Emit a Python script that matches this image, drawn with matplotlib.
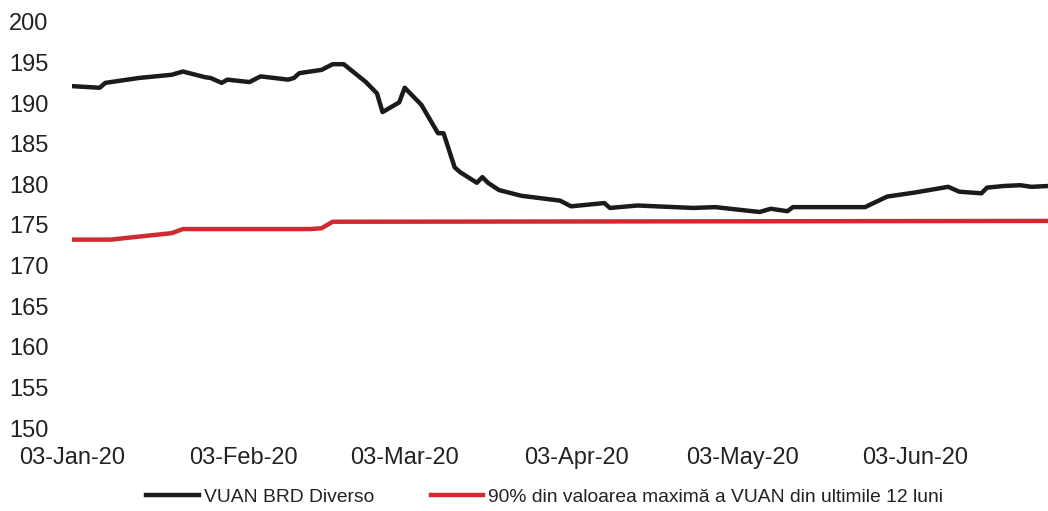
import matplotlib
matplotlib.use("Agg")
import matplotlib.pyplot as plt
import pandas as pd

plt.rcParams['font.family'] = ['Liberation Sans', 'DejaVu Sans']

# VUAN BRD Diverso
vuan_dates = [
    "2020-01-03", "2020-01-08", "2020-01-09", "2020-01-15", "2020-01-21",
    "2020-01-23", "2020-01-27", "2020-01-28", "2020-01-30", "2020-01-31",
    "2020-02-04", "2020-02-06", "2020-02-11", "2020-02-12", "2020-02-13",
    "2020-02-17", "2020-02-19", "2020-02-21", "2020-02-25", "2020-02-27",
    "2020-02-28", "2020-03-02", "2020-03-03", "2020-03-06", "2020-03-09",
    "2020-03-10", "2020-03-12", "2020-03-13", "2020-03-16", "2020-03-17",
    "2020-03-18", "2020-03-20", "2020-03-24", "2020-03-31", "2020-04-02",
    "2020-04-08", "2020-04-09", "2020-04-14", "2020-04-24", "2020-04-28",
    "2020-05-06", "2020-05-08", "2020-05-11", "2020-05-12", "2020-05-25",
    "2020-05-29", "2020-06-03", "2020-06-09", "2020-06-11", "2020-06-15",
    "2020-06-16", "2020-06-19", "2020-06-22", "2020-06-24", "2020-06-27",
]
vuan_values = [
    192.1, 191.9, 192.5, 193.1, 193.5,
    193.9, 193.2, 193.1, 192.5, 192.9,
    192.6, 193.3, 192.9, 193.1, 193.7,
    194.1, 194.8, 194.8, 192.6, 191.2,
    188.9, 190.1, 191.9, 189.8, 186.3,
    186.3, 182.1, 181.5, 180.2, 180.9,
    180.2, 179.3, 178.6, 178.0, 177.3,
    177.7, 177.1, 177.4, 177.1, 177.2,
    176.6, 177.0, 176.7, 177.2, 177.2,
    178.5, 179.0, 179.7, 179.1, 178.9,
    179.6, 179.8, 179.9, 179.7, 179.8,
]

# 90% din valoarea maxima a VUAN din ultimile 12 luni
prag_dates = ["2020-01-03", "2020-01-10", "2020-01-21", "2020-01-23",
              "2020-02-15", "2020-02-17", "2020-02-19", "2020-06-27"]
prag_values = [173.2, 173.2, 174.0, 174.5, 174.5, 174.6, 175.4, 175.5]

tick_dates = ["2020-01-03", "2020-02-03", "2020-03-03",
              "2020-04-03", "2020-05-03", "2020-06-03"]
tick_labels = ["03-Jan-20", "03-Feb-20", "03-Mar-20",
               "03-Apr-20", "03-May-20", "03-Jun-20"]

vuan_dates = pd.to_datetime(vuan_dates)
prag_dates = pd.to_datetime(prag_dates)

fig = plt.figure(figsize=(10.48, 5.11), dpi=100)
ax = fig.add_axes([0.0687, 0.1624, 0.9313, 0.7946])

ax.plot(vuan_dates, vuan_values, color="#1b1b1b", lw=3.2,
        solid_joinstyle="round", label="VUAN BRD Diverso")
ax.plot(prag_dates, prag_values, color="#cf2a30", lw=3.2,
        label="90% din valoarea maximă a VUAN din ultimile 12 luni")

ax.set_ylim(150, 200)
ax.set_yticks(range(150, 201, 5))
ax.set_xlim(pd.Timestamp("2020-01-03"), pd.Timestamp("2020-06-27"))
ax.set_xticks(pd.to_datetime(tick_dates))
ax.set_xticklabels(tick_labels)

for s in ax.spines.values():
    s.set_visible(False)
ax.tick_params(axis="both", length=0, labelsize=17, colors="#222222")
ax.tick_params(axis="y", pad=17)
ax.tick_params(axis="x", pad=14)

fig.legend(loc="lower center", bbox_to_anchor=(0.52, 0.0), ncol=2,
           frameon=False, fontsize=13.9, handlelength=2.7,
           handletextpad=0.3, columnspacing=2.9, labelcolor="#222222",
           borderaxespad=0.0, borderpad=0.25)

fig.savefig("out.png", dpi=100)
